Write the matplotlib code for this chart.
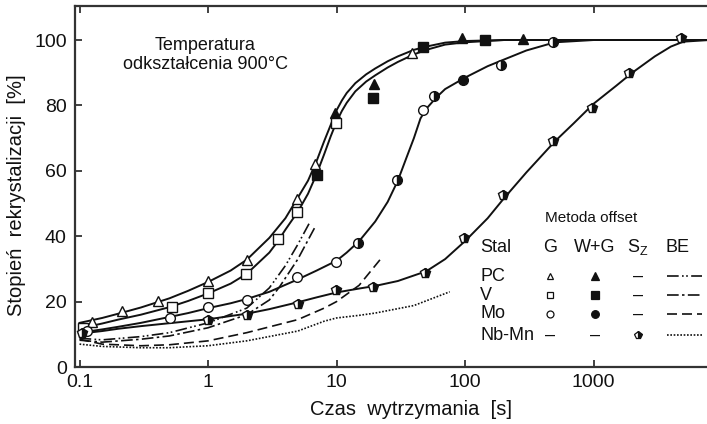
import matplotlib
matplotlib.use("Agg")
import matplotlib.pyplot as plt
from matplotlib.ticker import FixedLocator, FixedFormatter, NullLocator

plt.rcParams.update({
    "font.family": ["Liberation Sans", "DejaVu Sans"],
})

INK = "#111111"
SPINE = "#333333"

# fitted curves (solid)
t_pc = [0.1, 0.15, 0.2, 0.3, 0.5, 0.7, 1, 1.5, 2, 3, 4, 5, 6, 7, 8, 9, 10, 11, 12, 14, 17, 20, 25, 30, 40, 50, 70, 100, 200, 8000]
pc_fit = [13.5, 15, 16.3, 18.2, 21, 23.3, 26, 29.5, 32.8, 39.5, 45.5, 51.8, 57, 63, 69, 74, 78.5, 81.5, 83.8, 86.8, 89.5, 91.3, 93.5, 95, 97, 98, 99.2, 99.7, 100, 100]
t_v = [0.1, 0.15, 0.2, 0.3, 0.5, 0.7, 1, 1.5, 2, 3, 3.5, 4, 5, 6, 7, 8, 9, 10, 11, 12, 14, 17, 20, 25, 30, 40, 50, 70, 100, 200, 8000]
v_fit = [11.8, 13.3, 14.5, 16, 18.3, 20.2, 22.5, 25.5, 28.5, 35, 38.5, 42, 47.5, 53, 59, 65, 70.5, 75, 78.3, 80.8, 84.3, 87.3, 89.2, 91.6, 93.3, 95.6, 97, 98.6, 99.3, 100, 100]
t_mo = [0.1, 0.15, 0.2, 0.3, 0.5, 0.7, 1, 1.5, 2, 3, 5, 7, 10, 12, 15, 20, 25, 30, 35, 40, 45, 50, 60, 70, 100, 150, 200, 300, 500, 1000, 8000]
mo_fit = [10.5, 11.5, 12.3, 13.5, 15.3, 16.5, 18, 19.5, 20.8, 23, 26.8, 29.5, 32.5, 35, 38.5, 44.5, 50.5, 57, 64, 70, 76, 79, 82.5, 85, 88.5, 92, 94, 96.8, 99.3, 100, 100]
t_nb = [0.1, 0.15, 0.2, 0.3, 0.5, 1, 2, 3, 5, 7, 10, 15, 20, 30, 50, 70, 100, 150, 200, 300, 500, 700, 1000, 1500, 2000, 3000, 4000, 5000, 8000]
nb_fit = [10.2, 11, 11.7, 12.5, 13.4, 14.6, 16.3, 17.7, 19.8, 21.3, 22.8, 24, 24.8, 26.3, 29.3, 33, 38.5, 45.5, 51.5, 59.5, 69, 74.5, 80.5, 86, 90, 95, 98, 99.5, 100]

# BE method curves (broken)
t_pc_be = [0.1, 0.15, 0.3, 0.5, 1, 2, 3, 4, 5, 6.2]
pc_be = [8.8, 8.3, 9.3, 10.5, 13.5, 18, 24.2, 31, 37.5, 44.3]
t_v_be = [0.1, 0.15, 0.3, 0.5, 1, 2, 3, 3.6, 5, 6.8]
v_be = [8.2, 7.6, 8.5, 9.5, 12, 16, 20.5, 24.5, 33, 42.8]
t_mo_be = [0.1, 0.15, 0.3, 0.5, 1, 2, 5, 8, 10, 15, 22]
mo_be = [8.5, 7, 6.5, 6.8, 8, 10.5, 14.5, 18, 20, 25, 33]
t_nb_be = [0.1, 0.15, 0.3, 0.5, 1, 2, 5, 8, 10, 15, 20, 40, 76]
nb_be = [7, 6.3, 5.9, 5.9, 6.5, 8, 11, 14, 15, 15.8, 16.5, 18.8, 23]

# measured points
t_pc_g = [0.125, 0.214, 0.408, 1.0, 2.01, 4.93, 6.8, 38.7]
pc_g = [13.8, 17.1, 20.2, 26.3, 32.7, 51.4, 62.1, 96.0]
t_pc_wg = [9.7, 19.6, 94.8, 283]
pc_wg = [77.7, 86.5, 100.5, 100.3]
t_v_g = [0.106, 0.525, 1.0, 1.98, 3.5, 4.93, 9.9]
v_g = [11.9, 18.3, 22.6, 28.4, 39.1, 47.4, 74.6]
t_v_wg = [7.05, 19.2, 47.1, 143]
v_wg = [58.7, 82.3, 97.9, 100.0]
t_mo_g = [0.114, 0.506, 1.0, 2.01, 4.93, 9.9, 47]
mo_g = [11.0, 15.0, 18.3, 20.5, 27.5, 32.1, 78.6]
t_mo_wg = [96.5]
mo_wg = [87.8]
t_mo_half = [14.7, 29.6, 57.4, 190, 484]
mo_half = [37.9, 57.2, 82.9, 92.4, 99.4]
t_nb_sz = [0.105, 1.0, 2.0, 5.0, 9.9, 19.2, 48.7, 98.3, 197, 485, 974, 1899, 4796]
nb_sz = [10.4, 14.4, 15.9, 19.3, 23.5, 24.5, 28.7, 39.4, 52.6, 69.1, 79.2, 89.9, 100.5]

x_ticks = [0.1, 1, 10, 100, 1000]
x_tick_labels = ["0.1", "1", "10", "100", "1000"]
y_ticks = [0, 20, 40, 60, 80, 100]

steels = ["PC", "V", "Mo", "Nb-Mn"]

DASH_PC = (0, (7, 2, 1, 1.5, 1, 2))
DASH_V = (0, (7, 2, 1.5, 2))
DASH_MO = (0, (6, 3))
DASH_NB = (0, (1, 1))


def points(ax, t, y, marker, fill, ms=7):
    kw = dict(ls="none", marker=marker, ms=ms, mec=INK, mew=1.0, zorder=5, clip_on=False)
    if fill == "open":
        kw.update(mfc="white")
    elif fill == "full":
        kw.update(mfc=INK)
    else:
        kw.update(mfc=INK, fillstyle="right", markerfacecoloralt="white")
    ax.plot(t, y, **kw)


def legend_table(ax):
    tr = ax.transAxes
    txt = dict(transform=tr, fontsize=13, color=INK, va="center")
    ax.text(0.816, 0.413, "Metoda offset", transform=tr, fontsize=11, color=INK,
            ha="center", va="center")
    head_y = 0.332
    ax.text(0.641, head_y, "Stal", ha="left", **txt)
    ax.text(0.752, head_y, "G", ha="center", **txt)
    ax.text(0.823, head_y, "W+G", ha="center", **txt)
    ax.text(0.883, head_y, "S", ha="center", **txt)
    ax.text(0.900, head_y - 0.013, "Z", transform=tr, fontsize=9, color=INK,
            ha="center", va="center")
    ax.text(0.954, head_y, "BE", ha="center", **txt)

    rows_y = [0.252, 0.199, 0.147, 0.0886]
    col_g, col_wg, col_sz = 0.752, 0.823, 0.891
    be_x = [0.937, 0.992]
    open_marks = ["^", "s", "o"]
    dashes = [DASH_PC, DASH_V, DASH_MO, DASH_NB]
    mk = dict(transform=tr, clip_on=False, ls="none", mec=INK, mew=0.9, zorder=6)
    for i, (name, y) in enumerate(zip(steels, rows_y)):
        ax.text(0.641, y, name, ha="left", **txt)
        if i < 3:
            ax.plot([col_g], [y], marker=open_marks[i], ms=5, mfc="white", **mk)
            ax.plot([col_wg], [y], marker=open_marks[i], ms=5.5, mfc=INK, **mk)
            ax.text(col_sz, y, "–", ha="center", **txt)
        else:
            ax.text(col_g, y, "–", ha="center", **txt)
            ax.text(col_wg, y, "–", ha="center", **txt)
            ax.plot([col_sz], [y], marker="p", ms=6, mfc=INK, fillstyle="right",
                    markerfacecoloralt="white", **mk)
        ax.plot(be_x, [y, y], transform=tr, clip_on=False, color=INK, lw=1.2,
                linestyle=dashes[i], zorder=6)


def main():
    fig = plt.figure(figsize=(7.07, 4.24), dpi=100)
    ax = fig.add_axes([0.1061, 0.1344, 0.8939, 0.8514])
    ax.set_xscale("log")
    ax.set_xlim(0.0922, 7640)
    ax.set_ylim(0, 110.4)

    solid = dict(color=INK, lw=1.4, zorder=3)
    ax.plot(t_pc, pc_fit, **solid)
    ax.plot(t_v, v_fit, **solid)
    ax.plot(t_mo, mo_fit, **solid)
    ax.plot(t_nb, nb_fit, **solid)

    broken = dict(color=INK, lw=1.2, zorder=2)
    ax.plot(t_pc_be, pc_be, linestyle=DASH_PC, **broken)
    ax.plot(t_v_be, v_be, linestyle=DASH_V, **broken)
    ax.plot(t_mo_be, mo_be, linestyle=DASH_MO, **broken)
    ax.plot(t_nb_be, nb_be, linestyle=DASH_NB, **broken)

    points(ax, t_pc_g, pc_g, "^", "open", ms=7.5)
    points(ax, t_pc_wg, pc_wg, "^", "full", ms=7.5)
    points(ax, t_v_g, v_g, "s", "open", ms=6.5)
    points(ax, t_v_wg, v_wg, "s", "full", ms=6.5)
    points(ax, t_mo_g, mo_g, "o", "open", ms=7)
    points(ax, t_mo_wg, mo_wg, "o", "full", ms=7)
    points(ax, t_mo_half, mo_half, "o", "half", ms=7)
    points(ax, t_nb_sz, nb_sz, "p", "half", ms=7)

    ax.xaxis.set_major_locator(FixedLocator(x_ticks))
    ax.xaxis.set_major_formatter(FixedFormatter(x_tick_labels))
    ax.xaxis.set_minor_locator(NullLocator())
    ax.set_yticks(y_ticks)
    ax.tick_params(direction="in", length=5, width=1.3, color=SPINE,
                   labelsize=14, labelcolor=INK, top=True, right=False)
    ax.tick_params(axis="x", pad=5)
    ax.tick_params(axis="y", pad=6)

    for side in ["left", "bottom", "top"]:
        ax.spines[side].set_color(SPINE)
        ax.spines[side].set_linewidth(1.6)
    ax.spines["right"].set_visible(False)

    ax.set_xlabel("Czas  wytrzymania  [s]", fontsize=14.5, color=INK)
    ax.xaxis.label.set_va("center")
    ax.xaxis.set_label_coords(0.532, -0.119)
    ax.set_ylabel("Stopień  rekrystalizacji  [%]", fontsize=14.5, color=INK)
    ax.yaxis.label.set_va("center")
    ax.yaxis.set_label_coords(-0.092, 0.476)

    ax.text(0.206, 0.864, "Temperatura\nodkształcenia 900°C", transform=ax.transAxes,
            fontsize=13, color=INK, ha="center", va="center", linespacing=1.15)

    legend_table(ax)

    fig.savefig("out.png", dpi=100)
    plt.close(fig)


if __name__ == "__main__":
    main()
